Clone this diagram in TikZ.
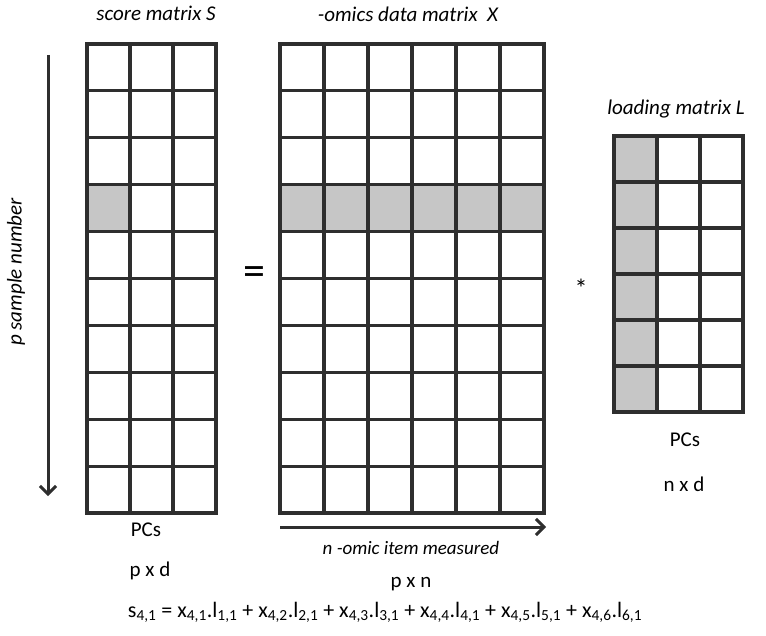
\documentclass[tikz,border=0pt]{standalone}
\usepackage{fontspec}
\setmainfont{Carlito}
\usetikzlibrary{arrows.meta}
\newcommand{\ix}[1]{\textsubscript{#1}}
\begin{document}
\begin{tikzpicture}[x=1pt, y=-1pt,
  cell/.style={draw=black!82, line width=3.2pt},
  hit/.style={fill=gray!45},
  ttl/.style={font=\itshape\fontsize{21}{24}\selectfont},
  lbl/.style={font=\fontsize{21}{24}\selectfont},
  axis/.style={-{Straight Barb[length=8pt, width=16pt]}, line width=3pt, black!82},
]
  \useasboundingbox (0,0) rectangle (766,636);

  % score matrix S (left)
  \node[ttl] (sTitle) at (156, 13) {score matrix S};
  \fill[hit] (87, 184.7) rectangle ++(43, 46.9);
  \foreach \r in {0,...,9}
    \foreach \c in {0,1,2}
      \draw[cell] (87+43*\c, 44+46.9*\r) rectangle ++(43, 46.9);
  \node[lbl] (sPc)  at (146, 530) {PCs};
  \node[lbl] (sDim) at (150, 571) {p x d};

  % sample axis
  \coordinate (pTop) at (48, 55);
  \coordinate (pBot) at (48, 496);
  \draw[axis] (pTop) -- (pBot);
  \node[ttl, rotate=90] (pLbl) at (16, 272) {p sample number};

  \node[font=\fontsize{44}{48}\selectfont] (eq) at (254, 276) {=};

  % data matrix X (middle)
  \node[ttl] (xTitle) at (408, 14) {-omics data matrix~~X};
  \foreach \c in {0,...,5}
    \fill[hit] (280+44*\c, 184.7) rectangle ++(44, 46.9);
  \foreach \r in {0,...,9}
    \foreach \c in {0,...,5}
      \draw[cell] (280+44*\c, 44+46.9*\r) rectangle ++(44, 46.9);
  \coordinate (nLeft)  at (280, 527);
  \coordinate (nRight) at (546, 527);
  \draw[axis] (nLeft) -- (nRight);
  \node[ttl, font=\itshape\fontsize{19}{22}\selectfont] (nLbl) at (411, 548) {n -omic item measured};
  \node[lbl] (xDim) at (411, 584) {p x n};

  \node[font=\fontsize{26}{30}\selectfont] (mul) at (581, 288) {*};

  % loading matrix L (right)
  \node[ttl] (lTitle) at (676, 109) {loading matrix L};
  \fill[hit] (614, 136) rectangle ++(43, 276);
  \foreach \r in {0,...,5}
    \foreach \c in {0,1,2}
      \draw[cell] (614+43*\c, 136+46*\r) rectangle ++(43, 46);
  \node[lbl] (lPc)  at (685, 440) {PCs};
  \node[lbl] (lDim) at (684, 484) {n x d};

  % worked element
  \node[font=\fontsize{22}{26}\selectfont] (eqn) at (385, 612)
    {s\ix{4,1} = x\ix{4,1}.l\ix{1,1} + x\ix{4,2}.l\ix{2,1} + x\ix{4,3}.l\ix{3,1} + x\ix{4,4}.l\ix{4,1} + x\ix{4,5}.l\ix{5,1} + x\ix{4,6}.l\ix{6,1}};
\end{tikzpicture}
\end{document}
